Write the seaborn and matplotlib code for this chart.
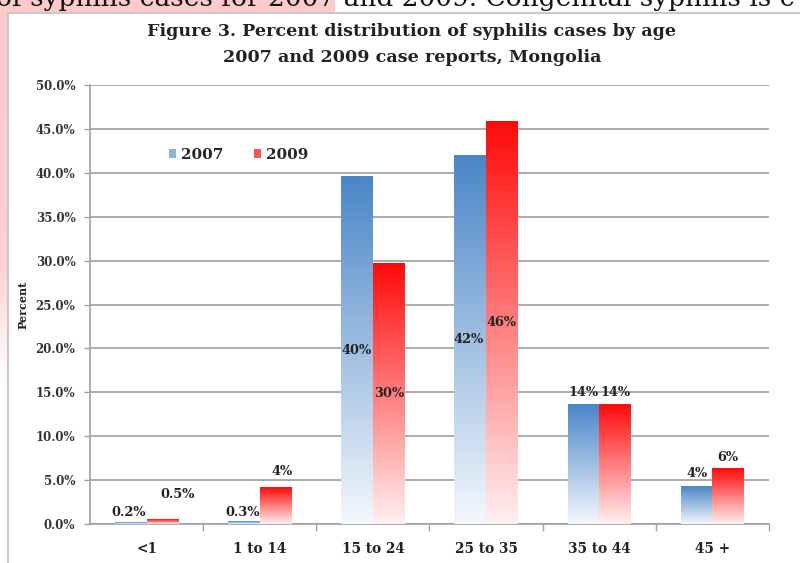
import numpy as np
import pandas as pd
import matplotlib
matplotlib.use("Agg")
import matplotlib.pyplot as plt
import seaborn as sns
from matplotlib.patches import Rectangle, Patch
from matplotlib.colors import LinearSegmentedColormap

# ---------------- data ----------------
categories = ["<1", "1 to 14", "15 to 24", "25 to 35", "35 to 44", "45 +"]
years = ["2007", "2009"]
values_2007 = [0.2, 0.3, 39.6, 42.0, 13.6, 4.3]
values_2009 = [0.5, 4.2, 29.7, 45.8, 13.6, 6.3]
labels_2007 = ["0.2%", "0.3%", "40%", "42%", "14%", "4%"]
labels_2009 = ["0.5%", "4%", "30%", "46%", "14%", "6%"]
ytick_values = [0, 5, 10, 15, 20, 25, 30, 35, 40, 45, 50]
title_line1 = "Figure 3. Percent distribution of syphilis cases by age"
title_line2 = "2007 and 2009 case reports, Mongolia"
y_label = "Percent"
page_text = "of syphilis cases for 2007 and 2009. Congenital syphilis is c"

# label placement (Excel style): centered inside bar or above it, with pixel offsets
label_inside_2007 = [False, False, True, True, False, False]
label_inside_2009 = [False, False, True, True, False, False]
label_dx_2007 = [-2, -1, -1, -2, 0, 0]
label_dy_2007 = [10, 9, 0, 0, 12, 13]
label_dx_2009 = [15, 6, 0, 0, 0, 0]
label_dy_2009 = [25, 16, 0, 0, 12, 11]

W, H = 800, 563
df = pd.DataFrame({
    "age": categories * 2,
    "year": [years[0]] * len(categories) + [years[1]] * len(categories),
    "pct": values_2007 + values_2009,
})

sns.set_theme(style="white")
plt.rcParams["font.family"] = ["DejaVu Serif", "DejaVu Sans"]

fig = plt.figure(figsize=(W / 100, H / 100), dpi=100)
fig.patch.set_facecolor("white")

# ---------- background (document page) ----------
bg = fig.add_axes([0, 0, 1, 1], zorder=-5)
bg.set_xlim(0, W)
bg.set_ylim(H, 0)
bg.axis("off")
strip = np.linspace(0, 1, 256).reshape(-1, 1)
pink_cmap = LinearSegmentedColormap.from_list(
    "pk", [(0, "#ffc9c9"), (0.7, "#ffd2d2"), (1.0, "#ffffff")])
bg.imshow(strip, extent=[0, 7, 380, 0], cmap=pink_cmap, aspect="auto",
          origin="upper", zorder=0)
bg.add_patch(Rectangle((0, 0), 335, 12, facecolor="#ffcaca", edgecolor="none", zorder=0))
bg.text(-4, 6, page_text, fontsize=19, family="DejaVu Serif", color="#111111",
        ha="left", va="baseline", zorder=2)
bg.add_patch(Rectangle((7.5, 12.5), 820, 600, facecolor="white",
                       edgecolor="#c8c8c8", lw=1.5, zorder=1))

# ---------- main chart ----------
ax = fig.add_axes([90 / W, (H - 524) / H, (769 - 90) / W, (524 - 85) / H])
ax.set_facecolor("none")
sns.barplot(data=df, x="age", y="pct", hue="year", order=categories,
            hue_order=years, palette={"2007": "#4a86c8", "2009": "#ff0000"},
            width=0.56, ax=ax, legend=False, saturation=1)

grad = np.linspace(0, 1, 256).reshape(-1, 1)
cmaps = {
    "2007": LinearSegmentedColormap.from_list("b", ["#f4f8fc", "#4a86c8"]),
    "2009": LinearSegmentedColormap.from_list("r", ["#fff0f0", "#ff0a0a"]),
}
label_sets = {
    "2007": (labels_2007, label_inside_2007, label_dx_2007, label_dy_2007),
    "2009": (labels_2009, label_inside_2009, label_dx_2009, label_dy_2009),
}
for year, cont in zip(years, ax.containers):
    texts, inside, dxs, dys = label_sets[year]
    for bar, txt, ins, dx, dy in zip(cont, texts, inside, dxs, dys):
        x0, w, h = bar.get_x(), bar.get_width(), bar.get_height()
        ax.imshow(grad, extent=[x0, x0 + w, 0, h], origin="lower",
                  aspect="auto", cmap=cmaps[year], zorder=3)
        bar.set_alpha(0)
        yv = h / 2 if ins else h
        ax.annotate(txt, xy=(x0 + w / 2, yv), xytext=(dx * 0.72, dy * 0.72),
                    textcoords="offset points", ha="center", va="center",
                    fontsize=9.3, fontweight="bold", color="#222222",
                    family="DejaVu Serif", zorder=5)

ax.set_xlim(-0.5, len(categories) - 0.5)
ax.set_ylim(0, 50)
ax.set_yticks(ytick_values)
ax.set_yticklabels([f"{v:.1f}%" for v in ytick_values])
ax.yaxis.grid(True, color="#a6a6a6", lw=1.3)
ax.set_axisbelow(True)
for s in ["top", "right"]:
    ax.spines[s].set_visible(False)
for s in ["left", "bottom"]:
    ax.spines[s].set_color("#a0a0a0")
    ax.spines[s].set_linewidth(1.2)

ax.tick_params(axis="y", length=4, width=1, color="#a0a0a0", direction="out",
               pad=6.5, labelsize=8.5, labelcolor="#333333", left=True)
ax.set_xticks(range(len(categories)))
ax.set_xticklabels(categories)
ax.set_xticks([i + 0.5 for i in range(len(categories))], minor=True)
ax.tick_params(axis="x", which="major", length=0, pad=13, labelsize=9.8,
               labelcolor="#222222")
ax.tick_params(axis="x", which="minor", length=5, width=1, color="#a0a0a0",
               direction="out", bottom=True)
for lab in ax.get_xticklabels() + ax.get_yticklabels():
    lab.set_fontweight("bold")
    lab.set_family("DejaVu Serif")

ax.set_xlabel("")
ax.set_ylabel(y_label, fontsize=8, fontweight="bold", family="DejaVu Serif",
              color="#222222")
ax.yaxis.set_label_coords((29 - 90) / (769 - 90), 0.5)

handles = [Patch(facecolor="#8fb4dc", edgecolor="none"),
           Patch(facecolor="#ff5252", edgecolor="none")]
ax.legend(handles=handles, labels=years, ncol=2, frameon=False,
          loc="center left", bbox_to_anchor=((161 - 90) / 679, (524 - 155) / 439),
          borderpad=0, handlelength=0.5, handleheight=0.5, handletextpad=0.3,
          columnspacing=2.0,
          prop={"family": "DejaVu Serif", "weight": "bold", "size": 11})

# title
fig.text(412 / W, 1 - 36 / H, title_line1, ha="center", va="baseline",
         fontsize=12.6, fontweight="bold", family="DejaVu Serif", color="#222222")
fig.text(412 / W, 1 - 62 / H, title_line2, ha="center", va="baseline",
         fontsize=12.6, fontweight="bold", family="DejaVu Serif", color="#222222")

fig.savefig("out.png", dpi=100)
